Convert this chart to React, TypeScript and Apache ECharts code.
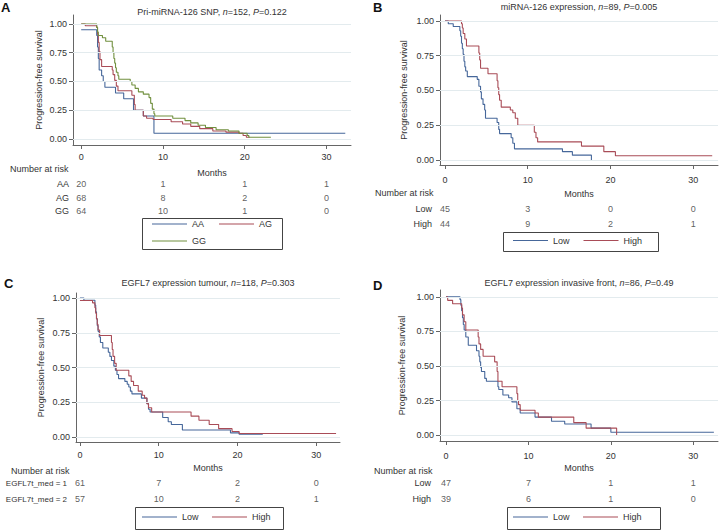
import React, { useEffect, useRef } from "react";
import * as echarts from "echarts";

// ---------- data ----------
const xTicks = [0, 10, 20, 30];
const yTicks = [0, 0.25, 0.5, 0.75, 1];
const riskMonths = [0, 10, 20, 30];

// Panel A: Pri-miRNA-126 SNP
const aAA = [[0,0.95],[1.9,0.90],[2.0,0.80],[2.1,0.70],[2.2,0.60],[2.5,0.55],[2.7,0.50],[2.9,0.45],[4.2,0.40],[5.2,0.35],[6.4,0.25],[7.6,0.20],[8.9,0.05],[32.3,0.05]];
const aAG = [[0,1.0],[0.5,0.985],[1.9,0.97],[2.0,0.91],[2.1,0.84],[2.2,0.76],[2.3,0.69],[2.5,0.63],[3.8,0.60],[3.9,0.56],[4.1,0.51],[4.3,0.46],[4.5,0.42],[6.2,0.38],[6.5,0.30],[6.6,0.25],[7.6,0.20],[8.0,0.18],[8.8,0.17],[11.0,0.15],[12.4,0.13],[13.4,0.11],[14.5,0.09],[16.1,0.07],[17.7,0.06],[19.3,0.05],[19.8,0.03],[20.2,0.015],[20.6,0.015]];
const aGG = [[0,1.0],[1.9,0.97],[2.0,0.93],[2.1,0.90],[2.6,0.88],[3.0,0.85],[3.8,0.80],[3.9,0.75],[4.0,0.70],[4.1,0.66],[4.2,0.62],[4.3,0.58],[4.5,0.55],[4.6,0.52],[6.0,0.50],[6.2,0.47],[6.6,0.44],[7.0,0.41],[7.6,0.39],[8.3,0.36],[8.5,0.31],[8.7,0.26],[8.9,0.22],[9.0,0.20],[11.2,0.18],[12.7,0.16],[13.4,0.14],[14.3,0.12],[15.2,0.10],[16.5,0.08],[18.0,0.07],[19.3,0.05],[20.3,0.03],[20.5,0.015],[23.2,0.015]];

// Panel B: miRNA-126 expression
const bLow = [[0,1.0],[0.4,0.98],[1.0,0.96],[1.8,0.93],[1.9,0.89],[2.0,0.84],[2.1,0.80],[2.2,0.76],[2.3,0.71],[2.4,0.67],[2.5,0.64],[2.7,0.60],[3.9,0.58],[4.1,0.53],[4.3,0.49],[4.4,0.44],[4.6,0.40],[4.8,0.36],[4.9,0.30],[6.3,0.27],[6.5,0.22],[6.6,0.19],[8.0,0.16],[8.2,0.12],[8.4,0.08],[14.2,0.06],[15.4,0.035],[17.7,0.0]];
const bHigh = [[0,1.0],[2.0,0.98],[2.1,0.95],[2.2,0.91],[2.4,0.87],[2.6,0.82],[4.1,0.77],[4.2,0.72],[4.3,0.66],[5.2,0.62],[6.3,0.57],[6.4,0.52],[6.5,0.47],[6.6,0.43],[6.8,0.38],[7.9,0.36],[8.2,0.34],[8.5,0.30],[8.8,0.25],[10.8,0.20],[11.0,0.16],[11.2,0.13],[16.5,0.10],[19.2,0.06],[20.6,0.03],[32.3,0.03]];

// Panel C: EGFL7 expression tumour
const cLow = [[0,1.0],[0.5,0.984],[1.9,0.95],[2.0,0.90],[2.1,0.85],[2.2,0.80],[2.3,0.76],[2.45,0.72],[2.6,0.68],[2.9,0.64],[3.6,0.61],[3.8,0.58],[4.0,0.55],[4.3,0.51],[4.5,0.48],[4.7,0.45],[4.9,0.42],[5.7,0.40],[6.0,0.38],[6.2,0.36],[6.4,0.33],[6.6,0.31],[7.8,0.28],[8.5,0.24],[8.7,0.20],[8.9,0.18],[10.5,0.14],[11.2,0.11],[11.6,0.09],[13.0,0.05],[19.1,0.03],[20.2,0.02],[23.2,0.02]];
const cHigh = [[0,0.982],[1.6,0.965],[1.9,0.93],[2.0,0.89],[2.1,0.85],[2.2,0.81],[2.3,0.77],[2.5,0.73],[4.0,0.68],[4.1,0.63],[4.2,0.58],[4.4,0.53],[4.6,0.48],[6.2,0.44],[6.5,0.40],[6.8,0.37],[7.4,0.33],[7.9,0.30],[8.2,0.28],[8.5,0.24],[8.7,0.21],[9.1,0.18],[14.1,0.15],[15.1,0.12],[16.4,0.09],[17.6,0.06],[19.3,0.04],[20.2,0.025],[32.5,0.025]];

// Panel D: EGFL7 expression invasive front
const dLow = [[0,1.0],[1.7,0.98],[1.8,0.94],[1.9,0.90],[2.0,0.85],[2.1,0.80],[2.2,0.76],[2.4,0.71],[2.7,0.65],[3.7,0.61],[4.0,0.57],[4.1,0.53],[4.2,0.49],[4.3,0.46],[4.7,0.41],[4.9,0.39],[6.3,0.35],[6.4,0.33],[6.9,0.29],[7.6,0.27],[8.0,0.24],[8.6,0.19],[9.0,0.16],[10.8,0.13],[12.8,0.10],[14.4,0.08],[17.6,0.05],[20.0,0.02],[32.5,0.02]];
const dHigh = [[0,1.0],[0.2,0.975],[0.8,0.95],[1.9,0.92],[2.0,0.87],[2.2,0.82],[2.4,0.76],[3.9,0.71],[4.0,0.66],[4.2,0.62],[4.5,0.57],[5.9,0.53],[6.2,0.46],[6.3,0.39],[6.8,0.35],[8.6,0.30],[8.7,0.25],[8.8,0.22],[9.0,0.18],[10.8,0.16],[11.2,0.13],[15.5,0.09],[17.0,0.05],[20.7,0.0]];

// Numbers at risk
const riskA_rows = ["AA", "AG", "GG"];
const riskA = [[20,1,1,1],[68,8,2,0],[64,10,1,0]];
const riskB_rows = ["Low", "High"];
const riskB = [[45,3,0,0],[44,9,2,1]];
const riskC_rows = ["EGFL7t_med = 1", "EGFL7t_med = 2"];
const riskC = [[61,7,2,0],[57,10,2,1]];
const riskD_rows = ["Low", "High"];
const riskD = [[47,7,1,1],[39,6,1,0]];

const titles = [
  "Pri-miRNA-126 SNP, {i|n}=152, {i|P}=0.122",
  "miRNA-126 expression, {i|n}=89, {i|P}=0.005",
  "EGFL7 expression tumour, {i|n}=118, {i|P}=0.303",
  "EGFL7 expression invasive front, {i|n}=86, {i|P}=0.49",
];
const letters = ["A", "B", "C", "D"];

// ---------- styling / layout ----------
const FONT = "'Liberation Sans', Arial, Helvetica, sans-serif";
const TXT = "#333";
const AXIS = "#666";
const GRIDC = "#e3ebee";
const BLUE = "#46679a";
const RED = "#a94c57";
const GREEN = "#71903f";

const panels = [
  { left: 73, width: 278, xMin: -1, xMax: 33, top: 15, height: 130, yMin: -0.052, yMax: 1.078,
    xLabMargin: 7, xNameGap: 23, yNameGap: 30, riskTop: 177.25, riskH: 40.5, riskMargin: 4, riskFont: 9,
    titleX: 212, titleY: 12, letterX: 1, letterY: 7, narX: 10, narY: 169,
    curves: [["AA", aAA, BLUE], ["AG", aAG, RED], ["GG", aGG, GREEN]], rows: riskA_rows, risk: riskA },
  { left: 440, width: 278, xMin: -0.6, xMax: 33, top: 15, height: 150, yMin: -0.036, yMax: 1.043,
    xLabMargin: 10, xNameGap: 24, yNameGap: 32, riskTop: 201.5, riskH: 30, riskMargin: 8, riskFont: 9,
    titleX: 579, titleY: 7, letterX: 373, letterY: 7, narX: 375, narY: 193,
    curves: [["Low", bLow, BLUE], ["High", bHigh, RED]], rows: riskB_rows, risk: riskB },
  { left: 76, width: 264, xMin: -0.5, xMax: 33, top: 293, height: 149, yMin: -0.036, yMax: 1.036,
    xLabMargin: 8, xNameGap: 21, yNameGap: 31, riskTop: 475, riskH: 32, riskMargin: 9, riskFont: 8,
    titleX: 208, titleY: 283, letterX: 4, letterY: 283, narX: 11, narY: 471,
    curves: [["Low", cLow, BLUE], ["High", cHigh, RED]], rows: riskC_rows, risk: riskC },
  { left: 440, width: 278, xMin: -0.73, xMax: 33, top: 290, height: 151, yMin: -0.043, yMax: 1.05,
    xLabMargin: 10, xNameGap: 22, yNameGap: 34, riskTop: 475, riskH: 32, riskMargin: 9, riskFont: 9,
    titleX: 579, titleY: 283, letterX: 373, letterY: 285, narX: 374, narY: 471,
    curves: [["Low", dLow, BLUE], ["High", dHigh, RED]], rows: riskD_rows, risk: riskD },
];

const legends = [
  { data: ["AA", "AG"], left: 152, top: 219.5, gap: 15 },
  { data: ["GG"], left: 152, top: 236.5, gap: 15 },
  { data: ["Low", "High"], left: 513, top: 236, gap: 14 },
  { data: ["Low", "High"], left: 142, top: 512.5, gap: 13.5 },
  { data: ["Low", "High"], left: 513, top: 512.5, gap: 13.5 },
];
const legendBoxes = [
  [142.5, 218.5, 140, 31],
  [503.5, 232.5, 155, 19],
  [135.5, 507.5, 148, 22],
  [507.5, 507.5, 153, 22],
];

function buildOption() {
  const grid: any[] = [];
  const xAxis: any[] = [];
  const yAxis: any[] = [];
  const series: any[] = [];
  const graphic: any[] = [];
  const textStyle = { fontSize: 9, color: TXT, fontFamily: FONT };

  panels.forEach((p, i) => {
    grid.push({ left: p.left, top: p.top, width: p.width, height: p.height });
    xAxis.push({
      gridIndex: i, type: "value", min: p.xMin, max: p.xMax,
      axisLine: { show: true, onZero: false, lineStyle: { color: AXIS, width: 1 } },
      axisTick: { show: true, length: 4, customValues: xTicks, lineStyle: { color: AXIS } },
      axisLabel: { customValues: xTicks, margin: p.xLabMargin, ...textStyle },
      splitLine: { show: false },
      name: "Months", nameLocation: "middle", nameGap: p.xNameGap, nameTextStyle: textStyle,
    });
    yAxis.push({
      gridIndex: i, type: "value", min: p.yMin, max: p.yMax,
      axisLine: { show: true, onZero: false, lineStyle: { color: AXIS, width: 1 } },
      axisTick: { show: true, length: 4, customValues: yTicks, lineStyle: { color: AXIS } },
      axisLabel: { customValues: yTicks, margin: 6, formatter: (v: number) => v.toFixed(2), ...textStyle },
      splitLine: { show: false },
      name: "Progression-free survival", nameLocation: "middle", nameGap: p.yNameGap, nameTextStyle: textStyle,
    });
    // gridlines
    series.push({
      type: "line", xAxisIndex: i, yAxisIndex: i, data: [[0, 0]], symbol: "none", z: 1,
      lineStyle: { width: 0 }, silent: true,
      markLine: {
        silent: true, symbol: "none", label: { show: false },
        lineStyle: { color: GRIDC, width: 1, type: "solid" },
        data: yTicks.map((v) => ({ yAxis: v })),
      },
    });
    p.curves.forEach(([name, data, color]: any) => {
      series.push({
        type: "line", name, xAxisIndex: i, yAxisIndex: i, data, step: "end",
        symbol: "none", color, lineStyle: { color, width: 1.1 }, z: 3,
      });
    });
    graphic.push({
      type: "text", x: p.titleX, y: p.titleY,
      style: {
        text: titles[i], align: "center", verticalAlign: "middle", fill: TXT,
        fontSize: 9, fontFamily: FONT,
        rich: { i: { fontStyle: "italic", fontSize: 9, fontFamily: FONT, fill: TXT } },
      },
    });
    graphic.push({
      type: "text", x: p.letterX, y: p.letterY,
      style: { text: letters[i], verticalAlign: "middle", fill: "#111", fontSize: 13, fontWeight: "bold", fontFamily: FONT },
    });
    graphic.push({
      type: "text", x: p.narX, y: p.narY,
      style: { text: "Number at risk", verticalAlign: "middle", fill: TXT, fontSize: 9, fontFamily: FONT },
    });
  });

  panels.forEach((p, i) => {
    const gi = panels.length + i;
    grid.push({ left: p.left, top: p.riskTop, width: p.width, height: p.riskH });
    xAxis.push({ gridIndex: gi, type: "value", min: p.xMin, max: p.xMax, show: false });
    yAxis.push({
      gridIndex: gi, type: "category", data: p.rows, inverse: true,
      axisLine: { show: false }, axisTick: { show: false }, splitLine: { show: false },
      axisLabel: { interval: 0, margin: p.riskMargin, fontSize: p.riskFont, color: TXT, fontFamily: FONT },
    });
    const data: any[] = [];
    p.rows.forEach((r: string, ri: number) => {
      riskMonths.forEach((m, mi) => data.push([m, r, p.risk[ri][mi]]));
    });
    series.push({
      type: "scatter", xAxisIndex: gi, yAxisIndex: gi, data, symbolSize: 0,
      itemStyle: { color: "transparent" }, silent: true,
      label: { show: true, position: "inside", formatter: (pp: any) => String(pp.value[2]), ...textStyle },
    });
  });

  legendBoxes.forEach(([x, y, w, h]) => {
    graphic.push({ type: "rect", shape: { x, y, width: w, height: h }, style: { fill: "none", stroke: "#444", lineWidth: 1 } });
  });

  const legend = legends.map((l) => ({
    data: l.data, left: l.left, top: l.top, icon: "rect", itemWidth: 35, itemHeight: 1.2, itemGap: l.gap,
    padding: 0, selectedMode: false, textStyle: { fontSize: 9, color: TXT, fontFamily: FONT },
  }));

  return {
    animation: false, backgroundColor: "#fff",
    textStyle: { fontFamily: FONT },
    grid, xAxis, yAxis, series, legend, graphic,
  };
}

export default function App() {
  const ref = useRef<HTMLDivElement>(null);
  useEffect(() => {
    if (!ref.current) return;
    const chart = echarts.init(ref.current, undefined, { renderer: "svg" });
    chart.setOption(buildOption() as any);
    return () => chart.dispose();
  }, []);
  return <div ref={ref} style={{ position: "fixed", left: 0, top: 0, width: 728, height: 530, background: "#fff" }} />;
}
